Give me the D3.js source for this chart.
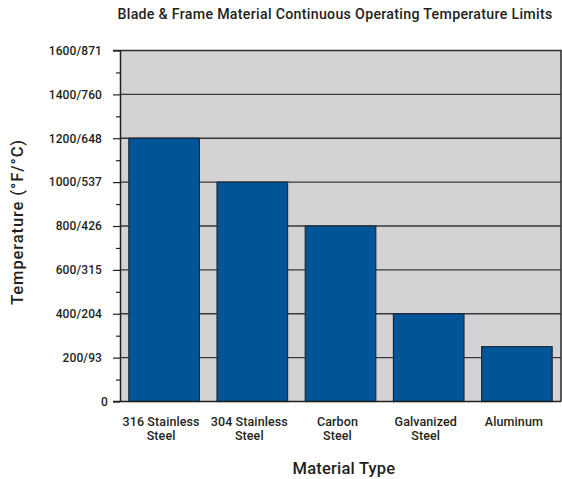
<!DOCTYPE html>
<html>
<head>
<meta charset="utf-8">
<script src="https://cdn.jsdelivr.net/npm/d3@7"></script>
<style>
  html, body { margin: 0; padding: 0; background: #ffffff; }
  svg { display: block; }
  text { font-family: Roboto, "Liberation Sans", Arial, sans-serif; font-weight: 500; fill: #231f20; }
</style>
</head>
<body>
<svg id="chart" width="562" height="479"></svg>
<script>
// Continuous operating temperature limit per material (°F)
const materials = [
  ["316 Stainless", "Steel"],
  ["304 Stainless", "Steel"],
  ["Carbon", "Steel"],
  ["Galvanized", "Steel"],
  ["Aluminum"]
];
const tempLimitsF = [1200, 1000, 800, 400, 250];

// Major tick values (°F) and their °F/°C labels
const majorTicks = [0, 200, 400, 600, 800, 1000, 1200, 1400, 1600];
const tickLabels = ["0", "200/93", "400/204", "600/315", "800/426", "1000/537", "1200/648", "1400/760", "1600/871"];
const minorTicks = [100, 300, 500, 700, 900, 1100, 1300, 1500];

const titleText = "Blade & Frame Material Continuous Operating Temperature Limits";
const yTitle = "Temperature (°F/°C)";
const xTitle = "Material Type";

const svg = d3.select("#chart");
const plot = { left: 120, right: 561, top: 50.5, bottom: 401.5 };

const x = d3.scaleBand()
  .domain(d3.range(materials.length))
  .range([plot.left, plot.right])
  .paddingInner(0.2)
  .paddingOuter(0.1);

const y = d3.scaleLinear()
  .domain([0, 1600])
  .range([plot.bottom, plot.top]);

// Plot background
svg.append("rect")
  .attr("x", plot.left).attr("y", plot.top)
  .attr("width", plot.right - plot.left).attr("height", plot.bottom - plot.top)
  .attr("fill", "#d3d3d5");

// Horizontal gridlines at major ticks
svg.append("g")
  .selectAll("line")
  .data(majorTicks.filter(d => d > 0 && d < 1600))
  .join("line")
  .attr("x1", plot.left).attr("x2", plot.right)
  .attr("y1", d => y(d)).attr("y2", d => y(d))
  .attr("stroke", "#38383a").attr("stroke-width", 1.3);

// Bars
svg.append("g")
  .selectAll("rect")
  .data(tempLimitsF)
  .join("rect")
  .attr("x", (d, i) => x(i))
  .attr("y", d => y(d))
  .attr("width", x.bandwidth())
  .attr("height", d => y(0) - y(d))
  .attr("fill", "#005599")
  .attr("stroke", "#1d2a38")
  .attr("stroke-width", 1.2);

// Frame: top and right borders
svg.append("path")
  .attr("d", `M${plot.left - 7},${plot.top}H${plot.right}V${plot.bottom}`)
  .attr("fill", "none").attr("stroke", "#2b2b2d").attr("stroke-width", 1.5);

// Y axis with major and minor ticks
const yAxis = d3.axisLeft(y)
  .tickValues(majorTicks)
  .tickFormat((d, i) => tickLabels[i])
  .tickSize(7)
  .tickPadding(11)
  .tickSizeOuter(0);
const gy = svg.append("g")
  .attr("transform", `translate(${plot.left},0)`)
  .call(yAxis);
gy.select(".domain").attr("stroke", "#231f20").attr("stroke-width", 1.5);
gy.selectAll(".tick line").attr("stroke", "#231f20").attr("stroke-width", 1.2);
gy.selectAll(".tick text")
  .style("font-size", "12px")
  .style("letter-spacing", "0.1px")
  .attr("fill", "#231f20")
  .attr("dx", d => d === 0 ? 6 : 0);

svg.append("g")
  .attr("transform", `translate(${plot.left},0)`)
  .call(d3.axisLeft(y).tickValues(minorTicks).tickSize(4).tickFormat(""))
  .call(g => g.select(".domain").remove())
  .selectAll(".tick line").attr("stroke", "#231f20").attr("stroke-width", 1.2);

// X axis baseline
svg.append("line")
  .attr("x1", plot.left - 7).attr("x2", plot.right)
  .attr("y1", y(0)).attr("y2", y(0))
  .attr("stroke", "#231f20").attr("stroke-width", 1.5);

// Category labels
const xl = svg.append("g")
  .selectAll("text")
  .data(materials)
  .join("text")
  .attr("x", (d, i) => x(i) + x.bandwidth() / 2 - 3)
  .attr("y", 425.5)
  .attr("text-anchor", "middle")
  .style("font-size", "12.5px")
  .style("letter-spacing", "0.1px");
xl.selectAll("tspan")
  .data(d => d)
  .join("tspan")
  .attr("x", function () { return d3.select(this.parentNode).attr("x"); })
  .attr("dy", (d, i) => i === 0 ? 0 : 14.5)
  .text(d => d);

// Titles
svg.append("text")
  .attr("x", 335).attr("y", 18.5)
  .attr("text-anchor", "middle")
  .style("font-size", "14.2px")
  .style("letter-spacing", "0.3px")
  .text(titleText);

svg.append("text")
  .attr("transform", "translate(23,222) rotate(-90)")
  .attr("text-anchor", "middle")
  .style("font-size", "16.5px")
  .style("letter-spacing", "0.9px")
  .text(yTitle);

svg.append("text")
  .attr("x", 344).attr("y", 474)
  .attr("text-anchor", "middle")
  .style("font-size", "16.5px")
  .style("letter-spacing", "0.2px")
  .text(xTitle);
</script>
</body>
</html>
